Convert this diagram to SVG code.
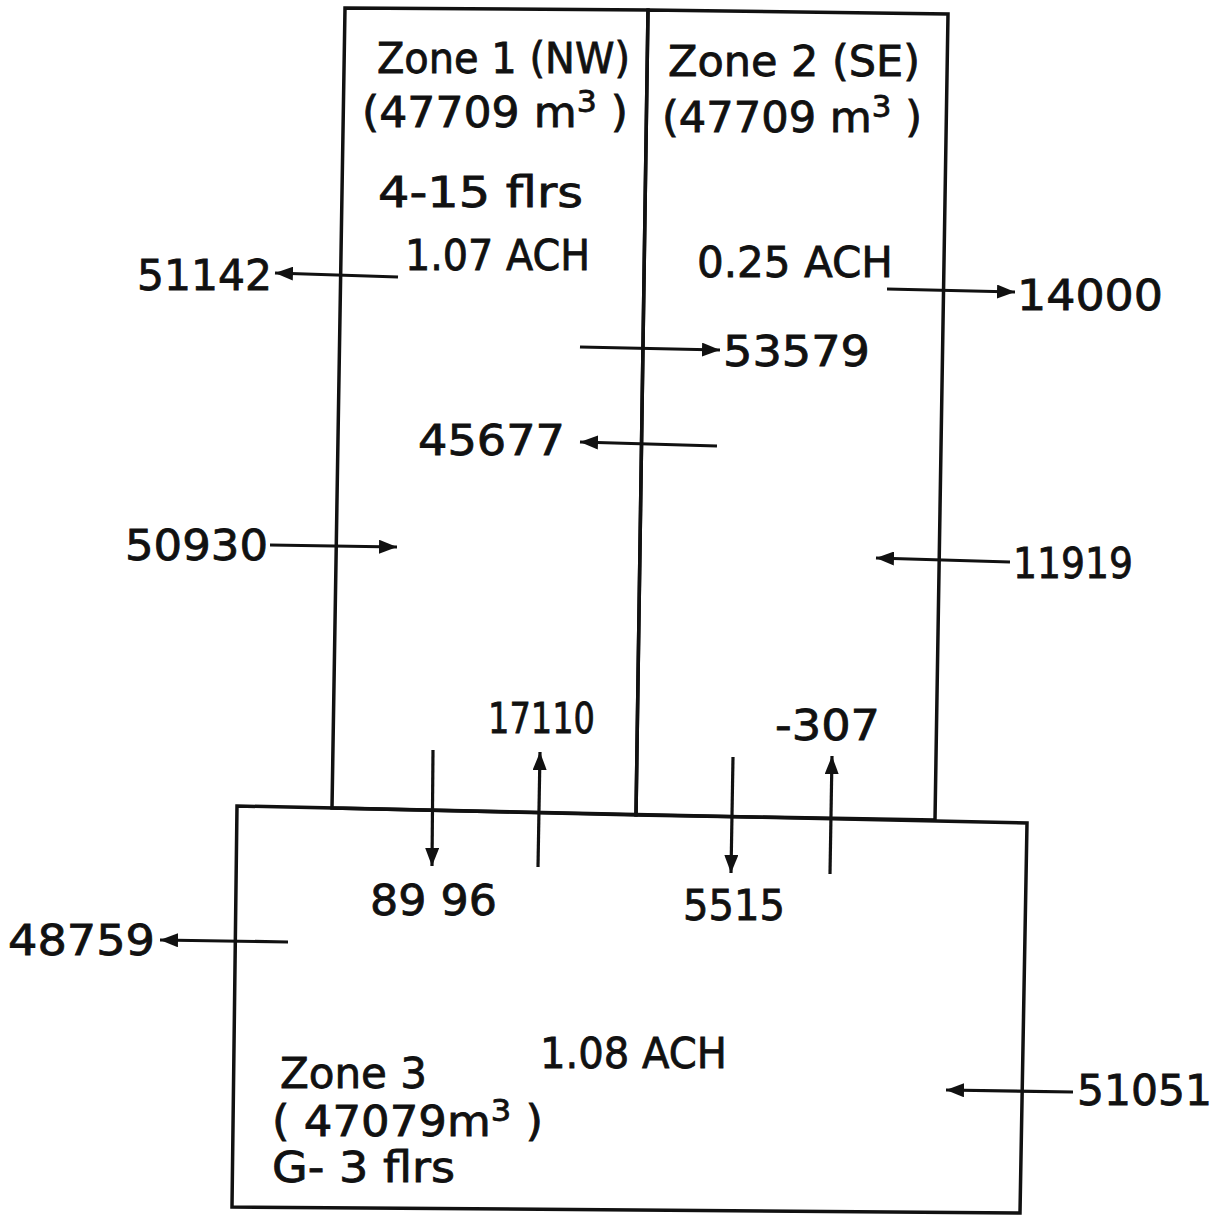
<svg xmlns="http://www.w3.org/2000/svg" width="1219" height="1221" viewBox="0 0 1219 1221">
<style>
.t{font-family:"DejaVu Sans","Liberation Sans",sans-serif;font-size:42px;fill:#111;stroke:#111;stroke-width:0.8}
.s{font-size:30px}
.b{fill:none;stroke:#111;stroke-width:3.5}
.c{fill:none;stroke:#111;stroke-width:3.2}
</style>
<defs>
<marker id="ah" markerUnits="userSpaceOnUse" markerWidth="20" markerHeight="14" refX="18" refY="7" orient="auto">
<path d="M0,0 L18,7 L0,14 Z" fill="#111"/>
</marker>
</defs>
<rect width="1219" height="1221" fill="#fff"/>
<g id="zone1">
<polygon class="b" points="345,8 648,10 636,815 332,808"/>
<text class="t" x="377" y="73" textLength="253" lengthAdjust="spacingAndGlyphs">Zone 1 (NW)</text>
<text class="t" x="362" y="127" textLength="266" lengthAdjust="spacingAndGlyphs">(47709 m<tspan class="s" dy="-15">3</tspan><tspan dy="15"> )</tspan></text>
<text class="t" x="378" y="207" textLength="205" lengthAdjust="spacingAndGlyphs">4-15 flrs</text>
<text class="t" x="405" y="270" textLength="185" lengthAdjust="spacingAndGlyphs">1.07 ACH</text>
</g>
<g id="zone2">
<polygon class="b" points="648,10 948,14 935,820 636,815"/>
<text class="t" x="668" y="76" textLength="252" lengthAdjust="spacingAndGlyphs">Zone 2 (SE)</text>
<text class="t" x="662" y="132" textLength="260" lengthAdjust="spacingAndGlyphs">(47709 m<tspan class="s" dy="-15">3</tspan><tspan dy="15"> )</tspan></text>
<text class="t" x="697" y="277" textLength="196" lengthAdjust="spacingAndGlyphs">0.25 ACH</text>
</g>
<g id="zone3">
<polygon class="b" points="237,806 1027,823 1020,1213 232,1207"/>
<text class="t" x="540" y="1068" textLength="187" lengthAdjust="spacingAndGlyphs">1.08 ACH</text>
<text class="t" x="280" y="1088" textLength="147" lengthAdjust="spacingAndGlyphs">Zone 3</text>
<text class="t" x="272" y="1136" textLength="271" lengthAdjust="spacingAndGlyphs">( 47079m<tspan class="s" dy="-15">3</tspan><tspan dy="15"> )</tspan></text>
<text class="t" x="272" y="1182" textLength="183" lengthAdjust="spacingAndGlyphs">G- 3 flrs</text>
</g>
<g id="connectors">
<line class="c" x1="398" y1="277" x2="275" y2="273" marker-end="url(#ah)"/>
<line class="c" x1="887" y1="289" x2="1015" y2="292" marker-end="url(#ah)"/>
<line class="c" x1="580" y1="347" x2="720" y2="350" marker-end="url(#ah)"/>
<line class="c" x1="717" y1="446" x2="580" y2="442" marker-end="url(#ah)"/>
<line class="c" x1="270" y1="545" x2="397" y2="547" marker-end="url(#ah)"/>
<line class="c" x1="1010" y1="562" x2="876" y2="558" marker-end="url(#ah)"/>
<line class="c" x1="433" y1="750" x2="432" y2="866" marker-end="url(#ah)"/>
<line class="c" x1="538" y1="867" x2="540" y2="752" marker-end="url(#ah)"/>
<line class="c" x1="733" y1="757" x2="731" y2="873" marker-end="url(#ah)"/>
<line class="c" x1="830" y1="874" x2="832" y2="756" marker-end="url(#ah)"/>
<line class="c" x1="288" y1="942" x2="160" y2="940" marker-end="url(#ah)"/>
<line class="c" x1="1073" y1="1092" x2="946" y2="1090" marker-end="url(#ah)"/>
</g>
<g id="labels">
<text class="t" x="137" y="290" textLength="135" lengthAdjust="spacingAndGlyphs">51142</text>
<text class="t" x="1017" y="310" textLength="146" lengthAdjust="spacingAndGlyphs">14000</text>
<text class="t" x="723" y="366" textLength="147" lengthAdjust="spacingAndGlyphs">53579</text>
<text class="t" x="418" y="455" textLength="147" lengthAdjust="spacingAndGlyphs">45677</text>
<text class="t" x="125" y="560" textLength="143" lengthAdjust="spacingAndGlyphs">50930</text>
<text class="t" x="1013" y="578" textLength="120" lengthAdjust="spacingAndGlyphs">11919</text>
<text class="t" x="488" y="733" textLength="107" lengthAdjust="spacingAndGlyphs">17110</text>
<text class="t" x="775" y="740" textLength="105" lengthAdjust="spacingAndGlyphs">-307</text>
<text class="t" x="370" y="915" textLength="127" lengthAdjust="spacingAndGlyphs">89 96</text>
<text class="t" x="683" y="920" textLength="102" lengthAdjust="spacingAndGlyphs">5515</text>
<text class="t" x="8" y="955" textLength="147" lengthAdjust="spacingAndGlyphs">48759</text>
<text class="t" x="1077" y="1105" textLength="135" lengthAdjust="spacingAndGlyphs">51051</text>
</g>
</svg>
